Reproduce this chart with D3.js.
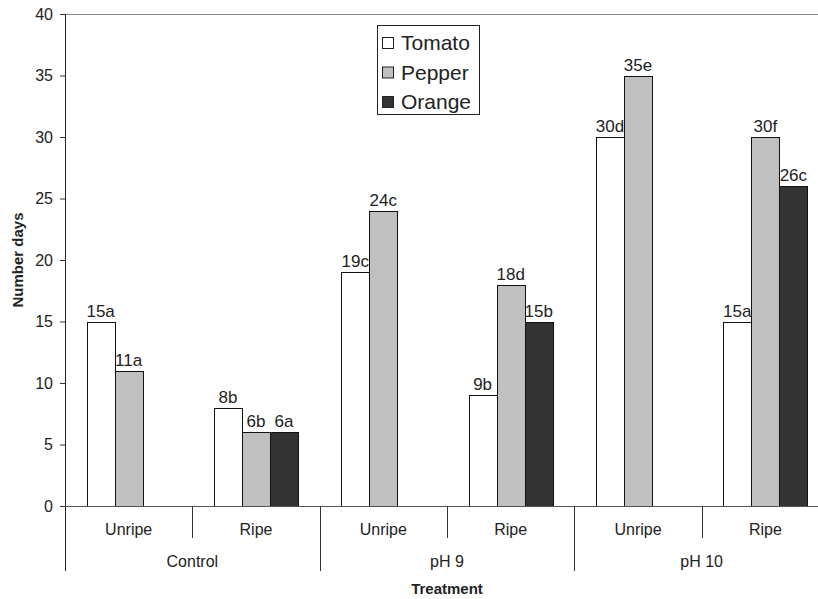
<!DOCTYPE html>
<html>
<head>
<meta charset="utf-8">
<script src="https://cdn.jsdelivr.net/npm/d3@7"></script>
<style>
  body { margin: 0; background: #fff; }
  text { font-family: "Liberation Sans", Arial, sans-serif; fill: #222; }
</style>
</head>
<body>
<svg id="chart" width="818" height="599"></svg>
<script>
// data
var treatments = ["Control", "pH 9", "pH 10"];
var stages = ["Unripe", "Ripe"];
var fruits = ["Tomato", "Pepper", "Orange"];
var tomato = [15, 8, 19, 9, 30, 15];
var pepper = [11, 6, 24, 18, 35, 30];
var orange = [null, 6, null, 15, null, 26];
var tomatoLabels = ["15a", "8b", "19c", "9b", "30d", "15a"];
var pepperLabels = ["11a", "6b", "24c", "18d", "35e", "30f"];
var orangeLabels = [null, "6a", null, "15b", null, "26c"];
var yTicks = [0, 5, 10, 15, 20, 25, 30, 35, 40];

var fills = {Tomato: "#ffffff", Pepper: "#c0c0c0", Orange: "#333333"};

function drawChart() {
    var svg = d3.select("#chart");
    var mLeft = 65, mRight = 829, mTop = 14, mBottom = 506;

    // one slot per treatment/stage pair
    var slots = [];
    treatments.forEach(function (t) {
        stages.forEach(function (s) { slots.push(t + "|" + s); });
    });

    var x0 = d3.scaleBand().domain(slots).range([mLeft, mRight]).paddingInner(0).paddingOuter(0);
    var xg = d3.scaleBand().domain(treatments).range([mLeft, mRight]);
    var x1 = d3.scaleBand().domain(fruits).range([0, x0.bandwidth()]).paddingInner(0).paddingOuter(0.77);
    var y = d3.scaleLinear().domain([0, 40]).range([mBottom, mTop]);

    var series = {Tomato: tomato, Pepper: pepper, Orange: orange};
    var labels = {Tomato: tomatoLabels, Pepper: pepperLabels, Orange: orangeLabels};

    var bars = [];
    slots.forEach(function (slot, i) {
        fruits.forEach(function (f) {
            if (series[f][i] != null) {
                bars.push({slot: slot, fruit: f, value: series[f][i], label: labels[f][i]});
            }
        });
    });

    // top frame line
    svg.append("line")
        .attr("x1", mLeft).attr("x2", mRight)
        .attr("y1", Math.round(y(40)) + 0.5).attr("y2", Math.round(y(40)) + 0.5)
        .attr("stroke", "#888").attr("stroke-width", 1);

    svg.selectAll("rect.bar")
        .data(bars)
        .enter().append("rect")
        .attr("class", "bar")
        .attr("x", function (d) { return Math.round(x0(d.slot) + x1(d.fruit)) + 0.5; })
        .attr("y", function (d) { return Math.round(y(d.value)) + 0.5; })
        .attr("width", Math.round(x1.bandwidth()))
        .attr("height", function (d) { return Math.round(y(0)) - Math.round(y(d.value)); })
        .attr("fill", function (d) { return fills[d.fruit]; })
        .attr("stroke", "#111")
        .attr("stroke-width", 1);

    svg.selectAll("text.val")
        .data(bars)
        .enter().append("text")
        .attr("class", "val")
        .attr("x", function (d) { return x0(d.slot) + x1(d.fruit) + x1.bandwidth() / 2; })
        .attr("y", function (d) { return y(d.value) - 5; })
        .attr("text-anchor", "middle")
        .style("font-size", "17px")
        .text(function (d) { return d.label; });

    // y axis
    var yAxis = d3.axisLeft(y).tickValues(yTicks).tickSize(5).tickPadding(7);
    var gy = svg.append("g").attr("transform", "translate(" + mLeft + ",0)").call(yAxis);
    gy.select(".domain").remove();
    gy.selectAll(".tick line").attr("stroke", "#333");
    gy.selectAll(".tick text").style("font-size", "16px").style("fill", "#222")
        .attr("font-family", "Liberation Sans, Arial, sans-serif");
    svg.append("line")
        .attr("x1", mLeft + 0.5).attr("x2", mLeft + 0.5)
        .attr("y1", mTop).attr("y2", 571)
        .attr("stroke", "#222");

    // category axis
    svg.append("line")
        .attr("x1", mLeft).attr("x2", mRight)
        .attr("y1", mBottom + 0.5).attr("y2", mBottom + 0.5)
        .attr("stroke", "#555");

    svg.selectAll("line.sub")
        .data(slots.filter(function (s, i) { return i % 2 == 1; }).map(function (s) { return x0(s); }))
        .enter().append("line")
        .attr("class", "sub")
        .attr("x1", function (d) { return Math.round(d) + 0.5; })
        .attr("x2", function (d) { return Math.round(d) + 0.5; })
        .attr("y1", mBottom).attr("y2", 538)
        .attr("stroke", "#333");

    svg.selectAll("line.grp")
        .data(treatments.slice(1).map(function (t) { return xg(t); }))
        .enter().append("line")
        .attr("class", "grp")
        .attr("x1", function (d) { return Math.round(d) + 0.5; })
        .attr("x2", function (d) { return Math.round(d) + 0.5; })
        .attr("y1", mBottom).attr("y2", 571)
        .attr("stroke", "#333");

    svg.selectAll("text.stage")
        .data(slots)
        .enter().append("text")
        .attr("class", "stage")
        .attr("x", function (d) { return x0(d) + x0.bandwidth() / 2; })
        .attr("y", 535)
        .attr("text-anchor", "middle")
        .style("font-size", "16px")
        .text(function (d) { return d.split("|")[1]; });

    svg.selectAll("text.treat")
        .data(treatments)
        .enter().append("text")
        .attr("class", "treat")
        .attr("x", function (d) { return xg(d) + xg.bandwidth() / 2; })
        .attr("y", 567)
        .attr("text-anchor", "middle")
        .style("font-size", "16px")
        .text(function (d) { return d; });

    // axis titles
    svg.append("text")
        .attr("x", (mLeft + mRight) / 2).attr("y", 594)
        .attr("text-anchor", "middle")
        .style("font-size", "15px").style("font-weight", "bold")
        .text("Treatment");

    svg.append("text")
        .attr("transform", "translate(23," + ((mTop + mBottom) / 2) + ") rotate(-90)")
        .attr("text-anchor", "middle")
        .style("font-size", "15px").style("font-weight", "bold")
        .text("Number days");

    // legend
    var legend = svg.append("g").attr("transform", "translate(377,25)");
    legend.append("rect")
        .attr("x", 0.5).attr("y", 0.5).attr("width", 102).attr("height", 89)
        .attr("fill", "#fff").attr("stroke", "#222");
    var items = legend.selectAll("g.item")
        .data(fruits)
        .enter().append("g")
        .attr("class", "item")
        .attr("transform", function (d, i) { return "translate(0," + (i * 29.5) + ")"; });
    items.append("rect")
        .attr("x", 5.5).attr("y", 12.5).attr("width", 11).attr("height", 11)
        .attr("fill", function (d) { return fills[d]; })
        .attr("stroke", "#222");
    items.append("text")
        .attr("x", 24).attr("y", 25)
        .style("font-size", "21px")
        .text(function (d) { return d; });
}

drawChart();
</script>
</body>
</html>
